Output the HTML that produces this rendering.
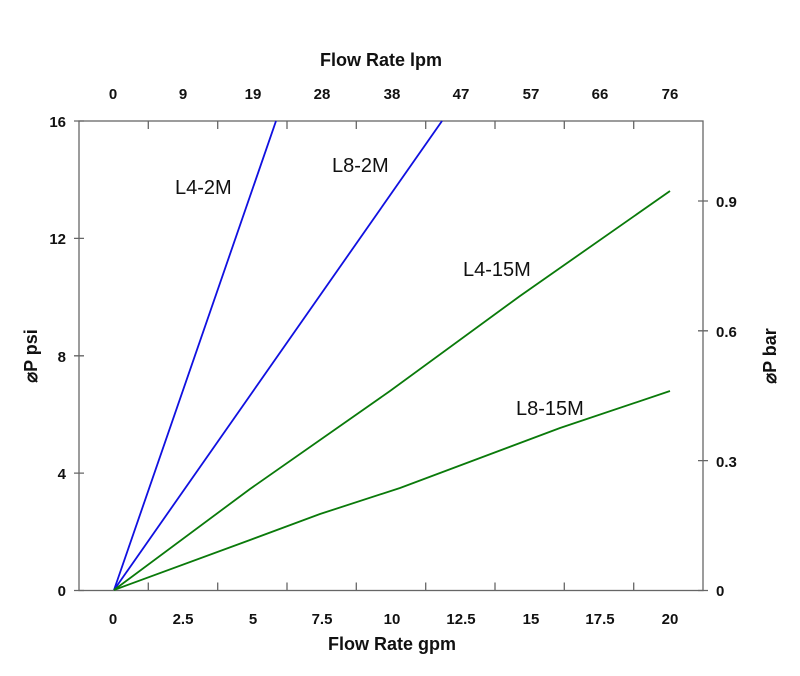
<!DOCTYPE html>
<html><head><meta charset="utf-8"><style>
html,body{margin:0;padding:0;background:#fff}
svg text{font-family:"Liberation Sans",Arial,sans-serif}
</style></head><body>
<svg width="800" height="671" viewBox="0 0 800 671" xmlns="http://www.w3.org/2000/svg">
<g stroke="#666" stroke-width="1.3" fill="none">
<rect x="79" y="121" width="624" height="469.5"/>
<!-- top ticks -->
<path d="M148.3 121v8M217.7 121v8M287 121v8M356.3 121v8M425.7 121v8M495 121v8M564.3 121v8M633.7 121v8"/>
<path d="M148.3 590.5v-8M217.7 590.5v-8M287 590.5v-8M356.3 590.5v-8M425.7 590.5v-8M495 590.5v-8M564.3 590.5v-8M633.7 590.5v-8"/>
<path d="M74 121h10M74 238.4h10M74 355.8h10M74 473.1h10M74 590.5h10"/>
<path d="M698 201h10M698 330.8h10M698 460.6h10M698 590.5h10"/>
</g>
<g fill="none" stroke-width="1.8">
<polyline stroke="#1010e0" points="114,590 276,121"/>
<polyline stroke="#1010e0" points="114,590 442,121"/>
<polyline stroke="#0a7a0a" points="114,590 250,489 390,391 520,296 670,191"/>
<polyline stroke="#0a7a0a" points="114,590 250,540 320,514 400,488 480,458 560,428 670,391"/>
</g>
<g font-size="15" font-weight="bold" text-anchor="middle" fill="#111">
<text x="113" y="99">0</text><text x="183" y="99">9</text><text x="253" y="99">19</text><text x="322" y="99">28</text><text x="392" y="99">38</text><text x="461" y="99">47</text><text x="531" y="99">57</text><text x="600" y="99">66</text><text x="670" y="99">76</text>
<text x="113" y="624">0</text><text x="183" y="624">2.5</text><text x="253" y="624">5</text><text x="322" y="624">7.5</text><text x="392" y="624">10</text><text x="461" y="624">12.5</text><text x="531" y="624">15</text><text x="600" y="624">17.5</text><text x="670" y="624">20</text>
</g>
<g font-size="15" font-weight="bold" text-anchor="end" fill="#111">
<text x="66" y="127">16</text><text x="66" y="244">12</text><text x="66" y="362">8</text><text x="66" y="479">4</text><text x="66" y="596">0</text>
</g>
<g font-size="15" font-weight="bold" fill="#111">
<text x="716" y="207">0.9</text><text x="716" y="337">0.6</text><text x="716" y="467">0.3</text><text x="716" y="596">0</text>
</g>
<g font-size="18" font-weight="bold" fill="#111" text-anchor="middle">
<text x="381" y="66">Flow Rate lpm</text>
<text x="392" y="650">Flow Rate gpm</text>
<text transform="translate(37,356) rotate(-90)">⌀P psi</text>
<text transform="translate(776,356) rotate(-90)">⌀P bar</text>
</g>
<g font-size="20" fill="#111">
<text x="175" y="194">L4-2M</text>
<text x="332" y="172">L8-2M</text>
<text x="463" y="276">L4-15M</text>
<text x="516" y="415">L8-15M</text>
</g>
</svg>
</body></html>
